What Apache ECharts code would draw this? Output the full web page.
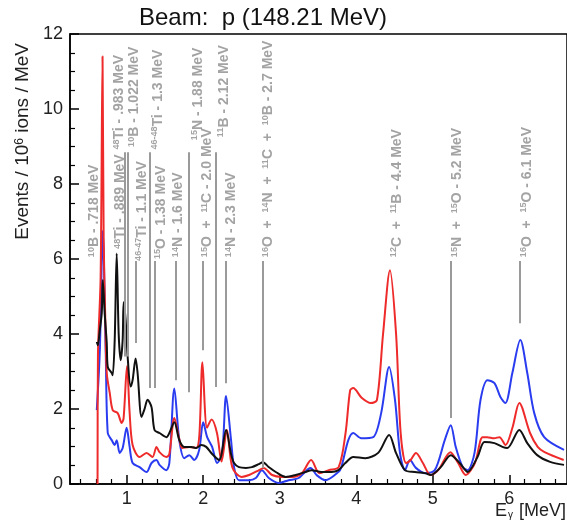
<!DOCTYPE html>
<html>
<head>
<meta charset="utf-8">
<script src="https://cdn.jsdelivr.net/npm/echarts@6/dist/echarts.min.js"></script>
<style>
html, body { margin: 0; padding: 0; background: #fff; }
#chart { width: 567px; height: 523px; }
</style>
</head>
<body>
<div id="chart"></div>
<script>
// spectra: [E (MeV), events / 1e6 ions / MeV]
var red = [[0.62,0],[0.625,3.4],[0.66,5.5],[0.685,11.4],[0.70,6.5],[0.72,4.5],[0.74,2.96],[0.779,2.43],[0.818,1.97],[0.883,1.89],[0.935,1.63],[0.96,1.75],[1.005,3.15],[1.039,1.9],[1.078,1.04],[1.169,0.72],[1.26,0.83],[1.338,0.72],[1.39,0.99],[1.429,0.85],[1.519,0.72],[1.558,0.8],[1.623,1.76],[1.688,1.2],[1.727,0.96],[1.818,0.99],[1.909,0.96],[1.95,1.3],[1.99,3.25],[2.05,1.5],[2.11,1.72],[2.18,1.36],[2.24,0.6],[2.31,1.44],[2.38,0.45],[2.5,0.19],[2.6,0.24],[2.73,0.37],[2.79,0.43],[2.9,0.24],[3.03,0.19],[3.16,0.19],[3.29,0.29],[3.41,0.64],[3.52,0.29],[3.64,0.37],[3.77,0.45],[3.86,1.36],[3.92,2.5],[3.96,2.56],[4.07,2.3],[4.19,2.16],[4.27,2.24],[4.35,4.0],[4.44,5.7],[4.52,4.0],[4.58,1.36],[4.65,0.56],[4.71,0.64],[4.78,0.83],[4.87,0.56],[4.97,0.24],[5.07,0.37],[5.23,0.85],[5.33,0.56],[5.43,0.24],[5.55,0.56],[5.65,1.25],[5.71,1.25],[5.8,1.22],[5.87,1.25],[5.95,1.04],[6.04,1.5],[6.13,2.16],[6.27,1.36],[6.37,0.99],[6.46,0.85],[6.71,0.64]];
var blue = [[0.61,1.97],[0.65,3.57],[0.688,6.75],[0.727,3.49],[0.753,1.36],[0.805,1.17],[0.844,1.04],[0.87,1.17],[0.909,0.83],[0.948,0.96],[1.0,1.5],[1.039,0.99],[1.078,0.56],[1.169,0.45],[1.26,0.32],[1.325,0.56],[1.39,0.64],[1.429,0.51],[1.519,0.37],[1.558,0.56],[1.623,2.55],[1.688,1.17],[1.753,0.69],[1.818,0.77],[1.883,0.64],[1.948,0.91],[2.0,1.65],[2.052,1.25],[2.117,0.99],[2.182,0.56],[2.247,0.83],[2.299,2.35],[2.364,1.17],[2.403,0.45],[2.468,0.1],[2.597,0.1],[2.688,0.16],[2.766,0.37],[2.857,0.16],[2.987,0.03],[3.117,0.1],[3.247,0.16],[3.403,0.43],[3.481,0.24],[3.597,0.1],[3.766,0.32],[3.805,0.45],[3.896,1.17],[3.961,1.36],[4.065,1.22],[4.221,1.25],[4.325,1.89],[4.429,3.12],[4.506,2.24],[4.571,0.83],[4.636,0.37],[4.701,0.64],[4.779,0.43],[4.896,0.29],[5.026,0.37],[5.156,1.17],[5.234,1.57],[5.299,0.99],[5.39,0.45],[5.455,0.37],[5.545,0.83],[5.623,2.24],[5.714,2.77],[5.805,2.69],[5.883,2.32],[5.948,2.16],[6.039,2.96],[6.143,3.84],[6.234,2.96],[6.325,1.89],[6.455,1.25],[6.714,0.91]];
var black = [[0.61,3.79],[0.623,3.7],[0.649,4.1],[0.675,4.56],[0.688,5.44],[0.715,4.5],[0.74,3.76],[0.753,3.12],[0.805,2.96],[0.818,2.9],[0.844,3.84],[0.87,6.15],[0.896,4.0],[0.922,3.3],[0.948,3.84],[0.961,4.85],[0.987,4.37],[1.013,3.4],[1.052,2.6],[1.078,2.77],[1.117,3.35],[1.143,2.96],[1.195,1.79],[1.234,2.0],[1.273,2.25],[1.325,2.05],[1.364,1.44],[1.429,1.36],[1.519,1.25],[1.558,1.36],[1.623,1.65],[1.688,1.17],[1.753,0.99],[1.844,0.99],[1.909,0.96],[1.974,1.04],[2.039,0.99],[2.117,0.8],[2.208,0.64],[2.299,1.44],[2.364,0.8],[2.403,0.56],[2.468,0.45],[2.558,0.43],[2.636,0.45],[2.727,0.53],[2.779,0.58],[2.857,0.45],[2.948,0.32],[3.078,0.19],[3.208,0.24],[3.338,0.32],[3.416,0.37],[3.545,0.32],[3.675,0.32],[3.766,0.37],[3.857,0.56],[3.961,0.72],[4.117,0.69],[4.286,0.83],[4.429,1.31],[4.519,0.83],[4.636,0.37],[4.766,0.32],[4.896,0.29],[4.974,0.24],[5.104,0.45],[5.234,0.77],[5.351,0.56],[5.455,0.32],[5.584,0.72],[5.675,1.12],[5.805,1.09],[5.909,0.99],[5.974,0.96],[6.13,1.44],[6.234,1.09],[6.364,0.77],[6.532,0.59],[6.714,0.51]];

var xTickLabels = [1, 2, 3, 4, 5, 6];

// line annotations ({s|..} = mass number superscript)
var labelText = [
    '{s|10}B - .718 MeV',
    '{s|48}Ti - .889 MeV',
    '{s|48}Ti - .983 MeV',
    '{s|10}B - 1.022 MeV',
    '{s|46-48}Ti - 1.3 MeV',
    '{s|46-47}Ti - 1.1 MeV',
    '{s|15}O - 1.38 MeV',
    '{s|14}N - 1.6 MeV',
    '{s|15}N - 1.88 MeV',
    '{s|15}O  +  {s|11}C - 2.0 MeV',
    '{s|11}B - 2.12 MeV',
    '{s|14}N - 2.3 MeV',
    '{s|16}O  +  {s|14}N  +  {s|11}C  +  {s|10}B - 2.7 MeV',
    '{s|12}C  +  {s|11}B - 4.4 MeV',
    '{s|15}N  +  {s|15}O - 5.2 MeV',
    '{s|16}O  +  {s|15}O - 6.1 MeV'
];
var labelE = [0.48, 0.82, 0.81, 1.00, 1.31, 1.10, 1.35, 1.58, 1.83, 1.96, 2.17, 2.27, 2.75, 4.43, 5.22, 6.13];
var labelY = [6.05, 6.27, 8.92, 8.99, 8.92, 5.95, 6.0, 6.05, 9.17, 6.05, 9.25, 6.05, 6.05, 6.05, 6.05, 6.05];

// gray marker lines: energy, bottom, top
var lineE    = [0.974, 1.013, 1.30, 1.117, 1.364, 1.636, 1.805, 2.0, 2.17, 2.30, 2.78, 5.23, 6.14];
var lineLow  = [3.4, 3.4, 2.56, 3.76, 2.56, 2.77, 2.45, 3.57, 2.59, 2.69, 0.43, 1.76, 4.29];
var lineHigh = [8.85, 8.85, 8.85, 5.95, 5.95, 5.95, 8.85, 5.95, 8.85, 5.95, 5.95, 5.95, 5.95];

var FONT = 'Liberation Sans';
var minorTicks = [];
for (var t = 0.4; t < 6.75; t += 0.2) {
    var v = Math.round(t * 10) / 10;
    if (Math.abs(v - Math.round(v)) > 1e-6) minorTicks.push(v);
}

var chart = echarts.init(document.getElementById('chart'));

var markData = lineE.map(function (e, i) {
    return [{coord: [e, lineLow[i]]}, {coord: [e, lineHigh[i]]}];
});

function curve(name, data, color) {
    return {
        name: name,
        type: 'line',
        data: data,
        showSymbol: false,
        smooth: 0.3,
        lineStyle: {color: color, width: 2},
        itemStyle: {color: color},
        z: 3
    };
}

var option = {
    animation: false,
    grid: {
        left: 70, top: 34, right: -3, bottom: 39,
        show: true, borderColor: '#000', borderWidth: 1.5
    },
    xAxis: [
        {
            type: 'value', min: 0.26, max: 6.753,
            axisLine: {lineStyle: {color: '#000', width: 1.5}},
            axisTick: {inside: true, length: 9, customValues: xTickLabels, lineStyle: {color: '#000', width: 1.5}},
            axisLabel: {customValues: xTickLabels, fontSize: 18, color: '#222', fontFamily: FONT, margin: 6},
            splitLine: {show: false}
        },
        {
            type: 'value', min: 0.26, max: 6.753, position: 'bottom',
            axisLine: {show: false},
            axisTick: {inside: true, length: 5, customValues: minorTicks, lineStyle: {color: '#000', width: 1.2}},
            axisLabel: {show: false},
            splitLine: {show: false}
        }
    ],
    yAxis: {
        type: 'value', min: 0, max: 12, interval: 2,
        axisLine: {show: true, lineStyle: {color: '#000', width: 1.5}},
        axisTick: {inside: true, length: 9, lineStyle: {color: '#000', width: 1.5}},
        minorTick: {show: true, splitNumber: 4, length: 5, lineStyle: {color: '#000', width: 1.2}},
        axisLabel: {fontSize: 18, color: '#222', fontFamily: FONT, margin: 7},
        splitLine: {show: false}
    },
    graphic: [
        {
            type: 'text', x: 263, y: 18,
            style: {
                text: 'Beam:  p (148.21 MeV)',
                font: '24px "Liberation Sans"', fill: '#111',
                textAlign: 'center', textVerticalAlign: 'middle'
            }
        },
        {
            type: 'text', x: 23, y: 43, rotation: Math.PI / 2,
            style: {
                text: 'Events / 10{s|6} ions / MeV',
                font: '19px "Liberation Sans"', fill: '#222',
                textAlign: 'right', textVerticalAlign: 'middle',
                rich: {s: {fontSize: 12, fontFamily: FONT, verticalAlign: 'top', lineHeight: 10}}
            }
        },
        {
            type: 'text', x: 566, y: 511,
            style: {
                text: 'E{g|γ} [MeV]',
                font: '18px "Liberation Sans"', fill: '#222',
                textAlign: 'right', textVerticalAlign: 'middle',
                rich: {g: {fontSize: 10, fontFamily: FONT, verticalAlign: 'bottom', lineHeight: 10, padding: [0, 1, 0, 1]}}
            }
        }
    ],
    series: [
        {
            name: 'labels',
            type: 'scatter',
            symbolSize: 0,
            silent: true,
            z: 1,
            data: labelE.map(function (e, i) { return [e, labelY[i]]; }),
            label: {
                show: true,
                position: [0, 0],
                rotate: 90,
                align: 'left',
                verticalAlign: 'top',
                formatter: function (p) { return labelText[p.dataIndex]; },
                fontSize: 14,
                fontWeight: 'bold',
                fontFamily: FONT,
                color: '#8c8c8c',
                lineHeight: 15,
                rich: {
                    s: {fontSize: 9, fontWeight: 'bold', fontFamily: FONT, color: '#8c8c8c', verticalAlign: 'top', lineHeight: 9}
                }
            },
            markLine: {
                silent: true,
                symbol: ['none', 'none'],
                label: {show: false},
                lineStyle: {color: '#9a9a9a', width: 2, type: 'solid'},
                data: markData
            }
        },
        curve('blue', blue, '#2a3cf0'),
        curve('red', red, '#ee2a2a'),
        curve('black', black, '#111')
    ]
};
chart.setOption(option);
</script>
</body>
</html>
